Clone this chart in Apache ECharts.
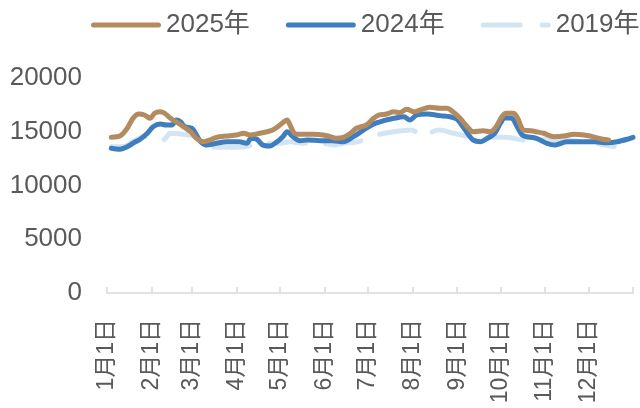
<!DOCTYPE html>
<html>
<head>
<meta charset="utf-8">
<script src="https://cdn.jsdelivr.net/npm/echarts@6/dist/echarts.min.js"></script>
<style>
  html, body { margin: 0; padding: 0; background: #fff; }
  #chart { width: 640px; height: 408px; }
</style>
</head>
<body>
<div id="chart"></div>
<script>
// Day of year (0 = 1月1日) and daily values for each year
var days2025 = [3, 9, 14, 18, 22, 26, 30, 33, 37, 40, 44, 48, 53, 58, 62, 67, 71, 76, 83, 90, 95, 99, 106, 111, 115, 120, 125, 127, 130, 134, 143, 150, 155, 159, 164, 169, 173, 180, 185, 189, 194, 199, 203, 208, 213, 217, 224, 231, 236, 240, 245, 250, 254, 261, 266, 270, 274, 277, 282, 285, 289, 294, 298, 303, 310, 317, 324, 331, 337, 344, 348];
var vals2025 = [14500, 14600, 15320, 16250, 16650, 16560, 16250, 16720, 16860, 16720, 16250, 15930, 15470, 15000, 14390, 14070, 14230, 14480, 14600, 14700, 14860, 14700, 14860, 15000, 15160, 15630, 16090, 15630, 14860, 14760, 14760, 14700, 14540, 14390, 14480, 14860, 15320, 15630, 16250, 16560, 16650, 16860, 16770, 17090, 16860, 17020, 17270, 17180, 17180, 16860, 16250, 15470, 15000, 15100, 15000, 15470, 16400, 16720, 16720, 16250, 15160, 15100, 15000, 14860, 14540, 14600, 14760, 14700, 14540, 14300, 14230];

var days2024 = [3, 9, 14, 18, 23, 28, 32, 37, 41, 45, 48, 51, 54, 59, 62, 65, 69, 76, 83, 92, 97, 100, 104, 108, 113, 118, 122, 125, 129, 134, 139, 148, 157, 164, 171, 178, 185, 192, 199, 206, 210, 215, 222, 231, 238, 243, 247, 251, 254, 259, 264, 269, 273, 276, 281, 284, 288, 291, 298, 305, 311, 319, 328, 338, 347, 354, 361, 365];
var vals2024 = [13460, 13370, 13610, 13930, 14300, 14860, 15470, 15720, 15630, 15630, 16090, 15930, 15470, 15320, 14700, 14070, 13770, 13930, 14070, 14070, 13930, 14390, 14300, 13770, 13670, 14070, 14540, 15000, 14540, 14170, 14230, 14170, 14170, 14070, 14540, 15160, 15720, 16030, 16250, 16400, 16090, 16560, 16650, 16500, 16400, 16150, 15470, 14700, 14230, 14070, 14390, 14860, 15790, 16300, 16250, 15630, 14700, 14540, 14390, 13930, 13770, 14070, 14070, 14070, 13980, 14070, 14300, 14480];

var days2019 = [3, 11, 18, 25, 32, 39, 44, 51, 60, 65, 71, 83, 95, 111, 120, 127, 136, 150, 157, 166, 174, 187, 199, 211, 217, 222, 226, 231, 239, 252, 261, 268, 277, 289, 300, 314, 324, 333, 342, 349, 352];
var vals2019 = [13610, 13610, 14070, 14540, 14400, 14230, 14860, 14790, 14600, 14230, 13610, 13550, 13610, 13930, 13930, 14070, 13930, 13930, 13770, 13980, 14070, 14700, 15000, 15160, 14790, 14540, 15000, 15160, 14910, 14540, 14480, 14480, 14480, 14230, 14300, 14230, 14170, 13980, 13860, 13670, 13630];

// Month boundaries (day of year) and their labels
var monthStarts = [0, 31, 59, 90, 120, 151, 181, 212, 243, 273, 304, 334];
var monthLabels = ['1月1日', '2月1日', '3月1日', '4月1日', '5月1日', '6月1日', '7月1日', '8月1日', '9月1日', '10月1日', '11月1日', '12月1日'];
var yearEnd = 365;

var yTicks = [0, 5000, 10000, 15000, 20000];

function pairs(ds, vs) {
  return ds.map(function (d, i) { return [d, vs[i]]; });
}

var FONT = '"Liberation Sans", "Noto Sans CJK SC", sans-serif';
var TEXT_COLOR = '#595959';
var C2025 = '#b38b5f';
var C2024 = '#3e7dbe';
var C2019 = '#d3e4f3';

// Legend keys: a solid rounded bar, and a long-dash bar for the dashed series
var ICON_SOLID = 'path://M2.5,0 H67.5 A2.5,2.5 0 0 1 67.5,5 H2.5 A2.5,2.5 0 0 1 2.5,0 Z';
var ICON_DASH = 'path://M2.5,0 H39.5 A2.5,2.5 0 0 1 39.5,5 H2.5 A2.5,2.5 0 0 1 2.5,0 Z ' +
                'M61.5,0 H67.5 A2.5,2.5 0 0 1 67.5,5 H61.5 A2.5,2.5 0 0 1 61.5,0 Z';

var chart = echarts.init(document.getElementById('chart'), null, { renderer: 'canvas' });
chart.setOption({
  animation: false,
  backgroundColor: '#ffffff',
  textStyle: { fontFamily: FONT },
  legend: {
    left: 91,
    top: 12,
    width: 620,
    padding: 0,
    itemWidth: 70,
    itemHeight: 5,
    itemGap: 36,
    textStyle: { fontSize: 26, color: TEXT_COLOR, fontFamily: FONT },
    data: [
      { name: '2025年', icon: ICON_SOLID, itemStyle: { color: C2025 } },
      { name: '2024年', icon: ICON_SOLID, itemStyle: { color: C2024 } },
      { name: '2019年', icon: ICON_DASH, itemStyle: { color: C2019 } }
    ]
  },
  grid: { left: 107, right: 7, top: 78, bottom: 115, containLabel: false },
  xAxis: {
    type: 'value',
    min: 0,
    max: yearEnd,
    splitLine: { show: false },
    axisLine: { show: true, lineStyle: { color: '#d9d9d9', width: 1.5 } },
    axisTick: {
      show: true,
      inside: true,
      length: 6,
      lineStyle: { color: '#d9d9d9', width: 1.5 },
      customValues: monthStarts.concat([yearEnd])
    },
    axisLabel: {
      rotate: 90,
      margin: 26,
      fontSize: 23,
      color: TEXT_COLOR,
      fontFamily: FONT,
      customValues: monthStarts,
      formatter: function (v) {
        var i = monthStarts.indexOf(v);
        return i >= 0 ? monthLabels[i] : '';
      }
    }
  },
  yAxis: {
    type: 'value',
    min: yTicks[0],
    max: yTicks[yTicks.length - 1],
    interval: 5000,
    splitLine: { show: false },
    axisLine: { show: false },
    axisTick: { show: false },
    axisLabel: {
      fontSize: 26, color: TEXT_COLOR, fontFamily: FONT, margin: 25,
      formatter: function (v) { return String(v); }
    }
  },
  series: [
    {
      name: '2019年',
      type: 'line',
      z: 1,
      symbol: 'none',
      smooth: 0.3,
      data: pairs(days2019, vals2019),
      itemStyle: { color: C2019 },
      lineStyle: { color: C2019, width: 5, type: [36, 20], cap: 'round', join: 'round' }
    },
    {
      name: '2024年',
      type: 'line',
      z: 2,
      symbol: 'none',
      smooth: 0.3,
      data: pairs(days2024, vals2024),
      itemStyle: { color: C2024 },
      lineStyle: { color: C2024, width: 5, cap: 'round', join: 'round' }
    },
    {
      name: '2025年',
      type: 'line',
      z: 3,
      symbol: 'none',
      smooth: 0.3,
      data: pairs(days2025, vals2025),
      itemStyle: { color: C2025 },
      lineStyle: { color: C2025, width: 5, cap: 'round', join: 'round' }
    }
  ]
});
</script>
</body>
</html>
